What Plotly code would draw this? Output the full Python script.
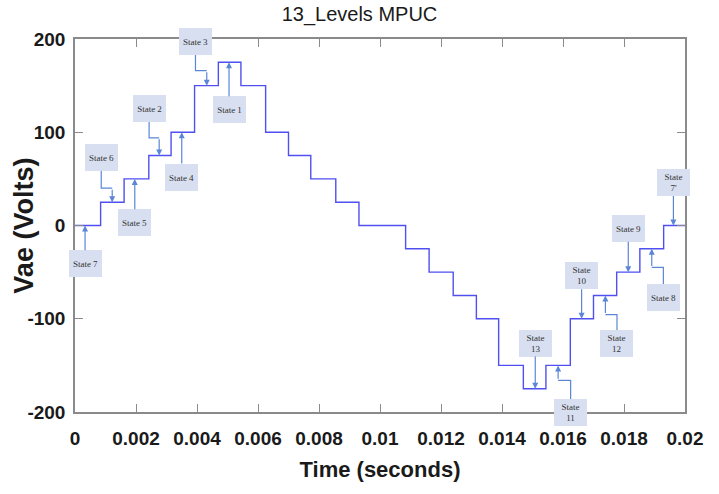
import plotly.graph_objects as go

# Switching instants (s) and output voltage level held from each instant (V)
switch_times = [0, 0.00084, 0.00161, 0.00242, 0.00315, 0.00392, 0.00470, 0.00544,
                0.00625, 0.00700, 0.00773, 0.00855, 0.00931, 0.01084, 0.01161,
                0.01240, 0.01316, 0.01389, 0.01470, 0.01544, 0.01624, 0.01700,
                0.01776, 0.01852, 0.01930, 0.02]
voltage_levels = [0, 25, 50, 75, 100, 150, 175, 150, 100, 75, 50, 25, 0, -25, -50,
                  -75, -100, -150, -175, -150, -100, -75, -50, -25, 0, 0]

x_ticks = [0, 0.002, 0.004, 0.006, 0.008, 0.01, 0.012, 0.014, 0.016, 0.018, 0.02]
x_tick_text = ["0", "0.002", "0.004", "0.006", "0.008", "0.01", "0.012", "0.014",
               "0.016", "0.018", "0.02"]
y_ticks = [-200, -100, 0, 100, 200]
y_tick_text = ["-200", "-100", "0", "100", "200"]

# State callouts: label, segment index of the state, time the arrow points at,
# label box centre (t, V) and height of the elbow (None = straight arrow)
state_labels = ["State 7", "State 6", "State 5", "State 2", "State 4", "State 3",
                "State 1", "State<br>7'", "State 8", "State 9", "State<br>12",
                "State<br>10", "State<br>11", "State<br>13"]
state_segment = [0, 1, 2, 3, 4, 5, 6, 24, 23, 22, 21, 20, 19, 18]
state_tip_time = [0.00033, 0.00122, 0.00196, 0.00276, 0.0035, 0.00432, 0.00505,
                  0.01962, 0.01891, 0.01814, 0.01739, 0.01661, 0.01584, 0.01509]
state_box_time = [0.00033, 0.00086, 0.00196, 0.00243, 0.0035, 0.00395, 0.00505,
                  0.01962, 0.01929, 0.01814, 0.01777, 0.01661, 0.01625, 0.01509]
state_box_volt = [-41, 73, 3, 125, 52, 197, 124, 46, -77, -3, -126, -54, -200, -126]
state_elbow_volt = [None, 40, None, 94, None, 166, None, None, -45, None, -95.5,
                    None, -166, None]

LINE_BLUE = "#4f4ff2"
CALLOUT_BLUE = "#5b86d6"
BOX_FILL = "#d8dff0"
AXIS_GREY = "#8a8a8a"
SANS = "Liberation Sans, Arial, sans-serif"

fig = go.Figure()
fig.add_trace(go.Scatter(
    x=switch_times, y=voltage_levels, mode="lines", line_shape="hv",
    line=dict(color=LINE_BLUE, width=1.4), showlegend=False, hoverinfo="skip",
))

annotations = []
shapes = []
for label, seg, tip_t, box_t, box_v, elbow_v in zip(
        state_labels, state_segment, state_tip_time, state_box_time,
        state_box_volt, state_elbow_volt):
    tip_v = voltage_levels[seg]
    box = dict(
        text=label, xref="x", yref="y", width=31, height=25,
        bgcolor=BOX_FILL, borderwidth=0, borderpad=1,
        font=dict(family="Liberation Serif, Times New Roman, serif", size=9,
                  color="#333333"),
    )
    if elbow_v is None:
        box.update(x=tip_t, y=tip_v, ax=box_t, ay=box_v, axref="x", ayref="y",
                   showarrow=True, arrowhead=2, arrowsize=1, arrowwidth=1.2,
                   arrowcolor=CALLOUT_BLUE, standoff=0)
        annotations.append(box)
    else:
        shapes.append(dict(
            type="path", xref="x", yref="y",
            path=f"M {box_t} {box_v} L {box_t} {elbow_v} L {tip_t} {elbow_v}",
            line=dict(color=CALLOUT_BLUE, width=1.2),
        ))
        annotations.append(dict(
            text="", x=tip_t, y=tip_v, ax=tip_t, ay=elbow_v, axref="x", ayref="y",
            xref="x", yref="y", showarrow=True, arrowhead=2, arrowsize=1,
            arrowwidth=1.2, arrowcolor=CALLOUT_BLUE, standoff=0,
        ))
        box.update(x=box_t, y=box_v, showarrow=False)
        annotations.append(box)

# Vertical axis title, set just left of the tick labels
annotations.append(dict(
    text="Vae (Volts)", xref="paper", yref="paper", x=-0.085, y=0.5,
    xanchor="center", yanchor="middle", textangle=-90, showarrow=False,
    font=dict(family=SANS, size=27, color="#1a1a1a", weight=700),
))

axis_common = dict(
    showgrid=False, zeroline=False, showline=True, linecolor=AXIS_GREY,
    linewidth=1.5, mirror="ticks", ticks="inside", ticklen=8, tickwidth=1.2,
    tickcolor=AXIS_GREY, automargin=False,
    tickfont=dict(family=SANS, size=19, color="#1a1a1a", weight=700),
)

fig.update_layout(
    width=719, height=494,
    margin=dict(l=75, r=34, t=39, b=82),
    paper_bgcolor="white", plot_bgcolor="white",
    title=dict(text="13_Levels MPUC", x=0.5, xanchor="center", y=0.972,
               yanchor="middle",
               font=dict(family=SANS, size=20, color="#1a1a1a")),
    xaxis=dict(range=[0, 0.02], tickvals=x_ticks, ticktext=x_tick_text,
               ticklabelstandoff=8,
               title=dict(text="Time (seconds)", standoff=14,
                          font=dict(family=SANS, size=22, color="#1a1a1a",
                                    weight=700)),
               **axis_common),
    yaxis=dict(range=[-200, 200], tickvals=y_ticks, ticktext=y_tick_text,
               ticklabelstandoff=4, **axis_common),
    annotations=annotations,
    shapes=shapes,
)

fig.write_html("out.html")
